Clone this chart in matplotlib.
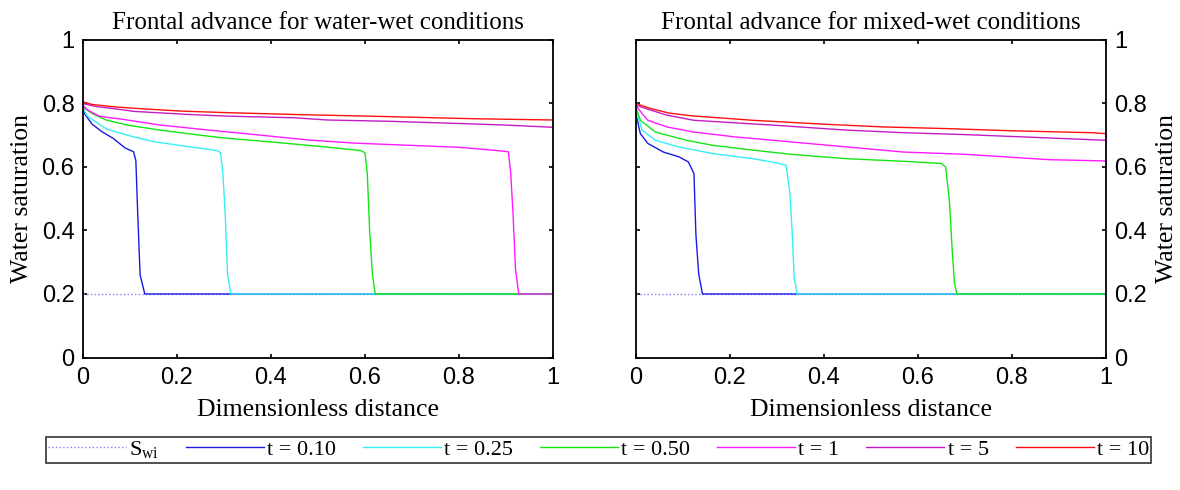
import matplotlib
matplotlib.use("Agg")
import matplotlib.pyplot as plt
from matplotlib.lines import Line2D

# water saturation profiles, water-wet case
ww_x_010 = [0, 0.005, 0.02, 0.04, 0.065, 0.09, 0.108, 0.113, 0.117, 0.122, 0.132, 1.0]
ww_s_010 = [0.79, 0.765, 0.735, 0.712, 0.69, 0.66, 0.648, 0.62, 0.45, 0.26, 0.2, 0.2]
ww_x_025 = [0, 0.01, 0.025, 0.05, 0.095, 0.15, 0.22, 0.285, 0.293, 0.298, 0.303, 0.308, 0.315, 1.0]
ww_s_025 = [0.785, 0.76, 0.745, 0.72, 0.70, 0.68, 0.665, 0.652, 0.645, 0.58, 0.45, 0.26, 0.2, 0.2]
ww_x_050 = [0, 0.02, 0.05, 0.095, 0.165, 0.25, 0.31, 0.40, 0.51, 0.59, 0.6, 0.605, 0.61, 0.616, 0.622, 1.0]
ww_s_050 = [0.79, 0.768, 0.748, 0.732, 0.716, 0.70, 0.69, 0.679, 0.664, 0.652, 0.645, 0.58, 0.40, 0.26, 0.2, 0.2]
ww_x_1 = [0, 0.01, 0.035, 0.095, 0.165, 0.27, 0.38, 0.48, 0.58, 0.70, 0.80, 0.88, 0.905, 0.91, 0.915, 0.92, 0.927, 1.0]
ww_s_1 = [0.795, 0.78, 0.76, 0.748, 0.732, 0.716, 0.70, 0.685, 0.675, 0.668, 0.662, 0.652, 0.648, 0.58, 0.45, 0.28, 0.2, 0.2]
ww_x_5 = [0, 0.03, 0.06, 0.11, 0.23, 0.31, 0.45, 0.52, 0.65, 0.8, 0.9, 1.0]
ww_s_5 = [0.80, 0.79, 0.785, 0.775, 0.765, 0.76, 0.755, 0.748, 0.744, 0.737, 0.732, 0.725]
ww_x_10 = [0, 0.02, 0.07, 0.13, 0.21, 0.31, 0.46, 0.64, 0.83, 1.0]
ww_s_10 = [0.805, 0.797, 0.789, 0.783, 0.776, 0.771, 0.765, 0.759, 0.752, 0.748]

# mixed-wet case
mw_x_010 = [0, 0.01, 0.026, 0.059, 0.092, 0.112, 0.124, 0.128, 0.134, 0.142, 1.0]
mw_s_010 = [0.77, 0.705, 0.674, 0.647, 0.632, 0.616, 0.579, 0.389, 0.263, 0.2, 0.2]
mw_x_025 = [0, 0.014, 0.042, 0.092, 0.165, 0.25, 0.30, 0.32, 0.328, 0.333, 0.337, 0.343, 1.0]
mw_s_025 = [0.78, 0.716, 0.684, 0.663, 0.642, 0.626, 0.613, 0.605, 0.516, 0.389, 0.253, 0.2, 0.2]
mw_x_050 = [0, 0.01, 0.042, 0.108, 0.165, 0.25, 0.33, 0.45, 0.57, 0.65, 0.659, 0.667, 0.673, 0.678, 0.683, 1.0]
mw_s_050 = [0.79, 0.747, 0.71, 0.684, 0.668, 0.653, 0.64, 0.626, 0.618, 0.611, 0.60, 0.495, 0.337, 0.232, 0.2, 0.2]
mw_x_1 = [0, 0.01, 0.026, 0.067, 0.124, 0.21, 0.33, 0.45, 0.57, 0.70, 0.88, 1.0]
mw_s_1 = [0.795, 0.775, 0.747, 0.726, 0.71, 0.695, 0.679, 0.663, 0.647, 0.64, 0.623, 0.619]
mw_x_5 = [0, 0.03, 0.067, 0.124, 0.29, 0.45, 0.57, 0.70, 0.82, 1.0]
mw_s_5 = [0.795, 0.78, 0.763, 0.747, 0.732, 0.716, 0.708, 0.702, 0.695, 0.684]
mw_x_10 = [0, 0.03, 0.07, 0.12, 0.25, 0.41, 0.53, 0.66, 0.80, 0.97, 1.0]
mw_s_10 = [0.80, 0.785, 0.77, 0.761, 0.747, 0.734, 0.726, 0.721, 0.714, 0.708, 0.705]

swi_x = [0, 1]
swi_s = [0.2, 0.2]

labels = ["S$_\\mathregular{wi}$", "t = 0.10", "t = 0.25", "t = 0.50", "t = 1", "t = 5", "t = 10"]
colors = ["#8080ff", "#1a1ae6", "#33f0f5", "#14e614", "#ff19ff", "#c41cc4", "#ff1010"]
ticks = [0, 0.2, 0.4, 0.6, 0.8, 1]
tick_text = ["0", "0.2", "0.4", "0.6", "0.8", "1"]

ww = [(ww_x_010, ww_s_010), (ww_x_025, ww_s_025), (ww_x_050, ww_s_050),
      (ww_x_1, ww_s_1), (ww_x_5, ww_s_5), (ww_x_10, ww_s_10)]
mw = [(mw_x_010, mw_s_010), (mw_x_025, mw_s_025), (mw_x_050, mw_s_050),
      (mw_x_1, mw_s_1), (mw_x_5, mw_s_5), (mw_x_10, mw_s_10)]

serif = "Liberation Serif"
sans = "Liberation Sans"

fig = plt.figure(figsize=(11.8, 4.9), dpi=100)
ax1 = fig.add_axes([0.0701, 0.2704, 0.3986, 0.648])
ax2 = fig.add_axes([0.5387, 0.2704, 0.3986, 0.648])


def draw_panel(ax, curves, title, right=False):
    ax.plot(swi_x, swi_s, color=colors[0], ls=":", lw=1.0)
    for (x, s), c in zip(curves, colors[1:]):
        ax.plot(x, s, color=c, lw=1.0)
    ax.set_xlim(0, 1)
    ax.set_ylim(0, 1)
    ax.set_xticks(ticks)
    ax.set_yticks(ticks)
    ax.set_xticklabels(tick_text, fontfamily=sans, fontsize=17)
    ax.set_yticklabels(tick_text, fontfamily=sans, fontsize=17)
    ax.tick_params(direction="in", length=3, width=1.2, top=True, right=True)
    ax.tick_params(axis="x", pad=7)
    ax.tick_params(axis="y", pad=6)
    for sp in ax.spines.values():
        sp.set_linewidth(1.3)
    ax.set_title(title, fontfamily=serif, fontsize=18, pad=8)
    ax.set_xlabel("Dimensionless distance", fontfamily=serif, fontsize=18.5, labelpad=7)
    if right:
        ax.yaxis.tick_right()
        ax.yaxis.set_label_position("right")
        ax.tick_params(axis="y", left=True, right=True, direction="in")
    ax.set_ylabel("Water saturation", fontfamily=serif, fontsize=18.5, labelpad=6)


draw_panel(ax1, ww, "Frontal advance for water-wet conditions")
draw_panel(ax2, mw, "Frontal advance for mixed-wet conditions", right=True)

handles = [Line2D([0], [0], color=colors[0], ls=":", lw=1.0)]
handles += [Line2D([0], [0], color=c, lw=1.0) for c in colors[1:]]
leg = fig.legend(handles, labels, loc="lower left", ncol=7,
                 bbox_to_anchor=(0.0387, 0.055, 0.937, 0.0557), mode="expand",
                 prop={"family": serif, "size": 16}, handlelength=3.5,
                 handletextpad=0.15, columnspacing=0.8, borderaxespad=0,
                 fancybox=False, frameon=True, borderpad=0.1)
leg.get_frame().set_edgecolor("black")
leg.get_frame().set_linewidth(1.2)

fig.savefig("out.png", dpi=100)
